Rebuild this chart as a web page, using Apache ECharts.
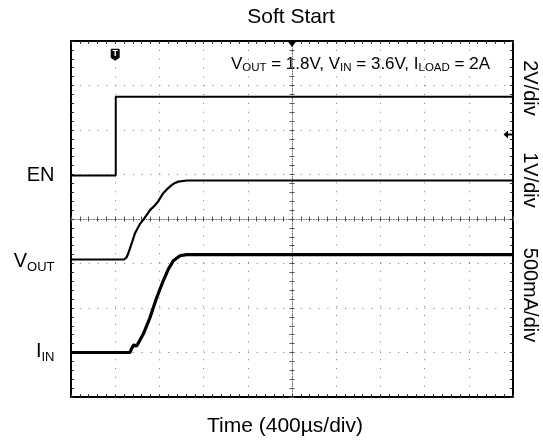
<!DOCTYPE html>
<html>
<head>
<meta charset="utf-8">
<script src="https://cdn.jsdelivr.net/npm/echarts@6/dist/echarts.min.js"></script>
<style>
html,body{margin:0;padding:0;background:#fff;}
#chart{width:543px;height:442px;}
</style>
</head>
<body>
<div id="chart"></div>
<script>
// ---- data (time in µs, relative to trigger) ----
const timeEN = [-400, 5, 5, 3600];
const valEN = [0, 0, 3.54, 3.54];            // V
const timeVOUT = [-400, 80, 102, 119, 149, 179, 224, 254, 315, 360, 390, 435, 469, 511, 541, 571, 647, 3600];
const valVOUT = [0, 0, 0.045, 0.14, 0.36, 0.59, 0.80, 0.89, 1.11, 1.22, 1.31, 1.49, 1.58, 1.67, 1.72, 1.75, 1.775, 1.775]; // V
const timeIIN = [-400, 134, 150, 170, 190, 206, 254, 315, 376, 435, 481, 526, 586, 647, 3600];
const valIIN = [0, 0, 0.05, 0.087, 0.07, 0.098, 0.207, 0.393, 0.618, 0.806, 0.937, 1.03, 1.087, 1.10, 1.10]; // A

// channel settings: units per division and ground level (divisions from bottom)
const chEN = {scale: 2, ground: 4.98};
const chVOUT = {scale: 1, ground: 3.09};
const chIIN = {scale: 0.5, ground: 1.0};

const timeTicks = {min: -400, max: 3600, interval: 400};
const divTicks = {min: 0, max: 8, interval: 1};

const FONT = '"Liberation Sans", Arial, sans-serif';

function toDiv(times, vals, ch) {
  return times.map((t, i) => [t, ch.ground + vals[i] / ch.scale]);
}

const gridDots = {show: true, lineStyle: {color: '#7a7a7a', width: 1, type: [1, 7.84]}};

function xAx(extra) {
  return Object.assign({
    type: 'value', min: timeTicks.min, max: timeTicks.max, interval: timeTicks.interval,
    axisLabel: {show: false},
    axisLine: {show: true, onZero: false, lineStyle: {color: '#000', width: 2}},
    axisTick: {show: true, inside: true, length: 3, lineStyle: {color: '#333'}},
    minorTick: {show: true, splitNumber: 5, length: 3, lineStyle: {color: '#333'}},
    splitLine: {show: false}
  }, extra);
}
function yAx(extra) {
  return Object.assign({
    type: 'value', min: divTicks.min, max: divTicks.max, interval: divTicks.interval,
    axisLabel: {show: false},
    axisLine: {show: true, onZero: false, lineStyle: {color: '#000', width: 2}},
    axisTick: {show: true, inside: true, length: 3, lineStyle: {color: '#333'}},
    minorTick: {show: true, splitNumber: 5, length: 3, lineStyle: {color: '#333'}},
    splitLine: {show: false}
  }, extra);
}
const centerLine = {show: true, onZero: false, lineStyle: {color: '#777', width: 1, type: [1, 1.5]}};
const centerTick = {show: true, length: 2.5, lineStyle: {color: '#555'}};

const subLabel = (main, sub) => `{m|${main}}{s|${sub}}`;
const labelRich = {
  m: {fontSize: 20, fontFamily: FONT, color: '#000', lineHeight: 24},
  s: {fontSize: 13, fontFamily: FONT, color: '#000', lineHeight: 24, verticalAlign: 'bottom', padding: [0, 0, 0, 0]}
};
function chLabel(text, dy) {
  return {
    show: true, position: 'left', distance: 16, formatter: text, rich: labelRich,
    fontSize: 20, fontFamily: FONT, color: '#000', offset: [0, dy]
  };
}

const chart = echarts.init(document.getElementById('chart'), null, {renderer: 'canvas'});
chart.setOption({
  animation: false,
  backgroundColor: '#fff',
  title: {
    text: 'Soft Start', left: 286, top: 2, textAlign: 'center',
    textStyle: {fontSize: 21, fontWeight: 'normal', fontFamily: FONT, color: '#000'}
  },
  grid: {left: 71, top: 41, right: 30, bottom: 45, containLabel: false, outerBoundsMode: 'none'},
  xAxis: [
    xAx({position: 'bottom', splitLine: gridDots, name: 'Time (400µs/div)', nameLocation: 'middle', nameGap: 19,
         nameTextStyle: {fontSize: 21, fontFamily: FONT, color: '#000', padding: [0, 14, 0, 0]}}),
    xAx({position: 'top'}),
    xAx({position: 'bottom', offset: -178, axisLine: centerLine, axisTick: Object.assign({inside: true}, centerTick), minorTick: Object.assign({show: true, splitNumber: 5}, centerTick)}),
    xAx({position: 'bottom', offset: -178, axisLine: {show: false}, axisTick: Object.assign({inside: false}, centerTick), minorTick: Object.assign({show: true, splitNumber: 5}, centerTick)})
  ],
  yAxis: [
    yAx({position: 'left', splitLine: gridDots}),
    yAx({position: 'right'}),
    yAx({position: 'left', offset: -221, axisLine: centerLine, axisTick: Object.assign({inside: true}, centerTick), minorTick: Object.assign({show: true, splitNumber: 5}, centerTick)}),
    yAx({position: 'left', offset: -221, axisLine: {show: false}, axisTick: Object.assign({inside: false}, centerTick), minorTick: Object.assign({show: true, splitNumber: 5}, centerTick)})
  ],
  series: [
    {
      name: 'EN', type: 'line', xAxisIndex: 0, yAxisIndex: 0, showSymbol: false, symbol: 'none',
      data: toDiv(timeEN, valEN, chEN),
      lineStyle: {color: '#000', width: 2},
      z: 5,
      markPoint: {
        silent: true, animation: false,
        data: [
          {coord: [timeEN[0], chEN.ground], symbol: 'circle', symbolSize: 1, itemStyle: {color: 'rgba(0,0,0,0)'},
           label: chLabel('EN', 0)},
          {coord: [0, 7.69], symbol: 'path://M1,0 L7,0 Q8,0 8,1 L8,9 L4,12 L0,9 L0,1 Q0,0 1,0 Z', symbolSize: [9, 12],
           itemStyle: {color: '#000'},
           label: {show: true, position: 'inside', formatter: 'T', color: '#fff', fontSize: 9, fontWeight: 'bold', fontFamily: FONT, offset: [0, -1]}},
          {coord: [1600, 8], symbol: 'path://M0,0 L10,0 L5,6 Z', symbolSize: [9, 6], symbolOffset: [0, 3],
           itemStyle: {color: '#000'}, label: {show: false}},
          {coord: [3600, 5.9], symbol: 'path://M0,4 L5,0 L5,3 L10,3 L10,5 L5,5 L5,8 Z', symbolSize: [9, 8], symbolOffset: [-5, 0],
           itemStyle: {color: '#000'}, label: {show: false}}
        ]
      }
    },
    {
      name: 'VOUT', type: 'line', xAxisIndex: 0, yAxisIndex: 0, showSymbol: false, symbol: 'none',
      data: toDiv(timeVOUT, valVOUT, chVOUT),
      lineStyle: {color: '#000', width: 2.2},
      z: 5,
      markPoint: {
        silent: true, animation: false,
        data: [
          {coord: [timeVOUT[0], chVOUT.ground], symbol: 'circle', symbolSize: 1, itemStyle: {color: 'rgba(0,0,0,0)'},
           label: chLabel(subLabel('V', 'OUT'), 2)}
        ]
      }
    },
    {
      name: 'IIN', type: 'line', xAxisIndex: 0, yAxisIndex: 0, showSymbol: false, symbol: 'none',
      data: toDiv(timeIIN, valIIN, chIIN),
      lineStyle: {color: '#000', width: 3.2},
      z: 5,
      markPoint: {
        silent: true, animation: false,
        data: [
          {coord: [timeIIN[0], chIIN.ground], symbol: 'circle', symbolSize: 1, itemStyle: {color: 'rgba(0,0,0,0)'},
           label: chLabel(subLabel('I', 'IN'), -1)}
        ]
      }
    }
  ],
  graphic: [
    {type: 'text', x: 490, y: 64, silent: true,
     style: {
       text: '{m|V}{s|OUT}{m| = 1.8V, V}{s|IN}{m| = 3.6V, I}{s|LOAD}{m| = 2A}',
       align: 'right', verticalAlign: 'middle',
       rich: {
         m: {fontSize: 17, fontFamily: FONT, fill: '#000', lineHeight: 20},
         s: {fontSize: 11.5, fontFamily: FONT, fill: '#000', lineHeight: 20, verticalAlign: 'bottom'}
       }
     }},
    {type: 'text', x: 530, y: 88, rotation: -Math.PI / 2, silent: true,
     style: {text: '2V/div', fontSize: 20, fontFamily: FONT, fill: '#000', align: 'center', verticalAlign: 'middle'}},
    {type: 'text', x: 530, y: 180, rotation: -Math.PI / 2, silent: true,
     style: {text: '1V/div', fontSize: 20, fontFamily: FONT, fill: '#000', align: 'center', verticalAlign: 'middle'}},
    {type: 'text', x: 530, y: 295, rotation: -Math.PI / 2, silent: true,
     style: {text: '500mA/div', fontSize: 20, fontFamily: FONT, fill: '#000', align: 'center', verticalAlign: 'middle'}}
  ]
});
</script>
</body>
</html>
